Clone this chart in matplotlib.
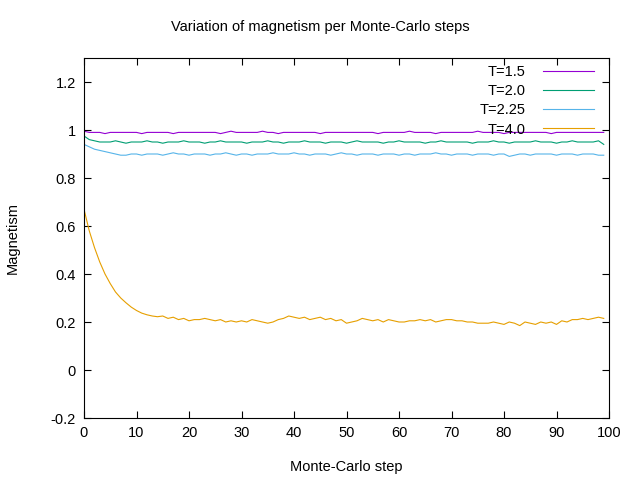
import matplotlib.pyplot as plt

m15 = [0.995, 0.99, 0.99, 0.99, 0.985, 0.99, 0.99, 0.99, 0.99, 0.99,
       0.99, 0.985, 0.99, 0.99, 0.99, 0.99, 0.99, 0.985, 0.99, 0.99,
       0.99, 0.99, 0.99, 0.99, 0.99, 0.99, 0.985, 0.99, 0.995, 0.99,
       0.99, 0.99, 0.99, 0.99, 0.995, 0.99, 0.99, 0.985, 0.99, 0.99,
       0.99, 0.99, 0.99, 0.99, 0.99, 0.985, 0.99, 0.99, 0.99, 0.99,
       0.99, 0.99, 0.99, 0.99, 0.99, 0.99, 0.985, 0.99, 0.99, 0.99,
       0.99, 0.99, 0.995, 0.99, 0.99, 0.99, 0.99, 0.985, 0.99, 0.99,
       0.99, 0.99, 0.99, 0.99, 0.99, 0.995, 0.99, 0.99, 0.99, 0.99,
       0.985, 0.99, 0.99, 0.99, 0.99, 0.99, 0.99, 0.99, 0.99, 0.985,
       0.99, 0.99, 0.99, 0.99, 0.99, 0.99, 0.99, 0.99, 0.99, 0.99]
m20 = [0.975, 0.96, 0.955, 0.95, 0.95, 0.95, 0.955, 0.95, 0.945, 0.95,
       0.95, 0.95, 0.955, 0.95, 0.95, 0.945, 0.95, 0.95, 0.95, 0.955,
       0.95, 0.95, 0.95, 0.945, 0.95, 0.95, 0.955, 0.95, 0.95, 0.95,
       0.95, 0.945, 0.95, 0.95, 0.95, 0.955, 0.95, 0.95, 0.945, 0.95,
       0.95, 0.95, 0.955, 0.95, 0.95, 0.95, 0.945, 0.95, 0.95, 0.95,
       0.945, 0.95, 0.955, 0.95, 0.95, 0.95, 0.95, 0.945, 0.95, 0.95,
       0.955, 0.95, 0.95, 0.95, 0.95, 0.945, 0.95, 0.95, 0.955, 0.95,
       0.95, 0.95, 0.95, 0.95, 0.945, 0.95, 0.95, 0.95, 0.955, 0.95,
       0.95, 0.945, 0.95, 0.95, 0.95, 0.95, 0.955, 0.95, 0.95, 0.95,
       0.945, 0.95, 0.95, 0.955, 0.95, 0.95, 0.95, 0.95, 0.955, 0.94]
m225 = [0.94, 0.93, 0.92, 0.915, 0.91, 0.905, 0.9, 0.895, 0.895, 0.9,
        0.9, 0.895, 0.9, 0.9, 0.9, 0.895, 0.9, 0.905, 0.9, 0.9,
        0.895, 0.9, 0.9, 0.9, 0.895, 0.9, 0.9, 0.905, 0.9, 0.895,
        0.9, 0.9, 0.895, 0.9, 0.9, 0.9, 0.905, 0.9, 0.9, 0.9,
        0.905, 0.9, 0.9, 0.895, 0.9, 0.9, 0.9, 0.895, 0.9, 0.905,
        0.9, 0.9, 0.895, 0.9, 0.9, 0.9, 0.895, 0.9, 0.9, 0.9,
        0.895, 0.9, 0.9, 0.895, 0.9, 0.9, 0.9, 0.905, 0.9, 0.9,
        0.895, 0.9, 0.9, 0.9, 0.895, 0.9, 0.9, 0.9, 0.895, 0.9,
        0.9, 0.89, 0.895, 0.9, 0.9, 0.895, 0.9, 0.9, 0.9, 0.9,
        0.895, 0.9, 0.9, 0.9, 0.895, 0.9, 0.9, 0.9, 0.895, 0.895]
m40 = [0.67, 0.58, 0.51, 0.45, 0.40, 0.36, 0.325, 0.30, 0.28, 0.262,
       0.248, 0.237, 0.23, 0.225, 0.222, 0.225, 0.215, 0.22, 0.21, 0.215,
       0.205, 0.21, 0.21, 0.215, 0.21, 0.205, 0.21, 0.2, 0.205, 0.2,
       0.205, 0.2, 0.21, 0.205, 0.2, 0.195, 0.2, 0.21, 0.215, 0.225,
       0.22, 0.215, 0.22, 0.21, 0.215, 0.22, 0.21, 0.215, 0.205, 0.21,
       0.195, 0.2, 0.205, 0.215, 0.21, 0.205, 0.21, 0.2, 0.21, 0.205,
       0.2, 0.2, 0.205, 0.205, 0.21, 0.205, 0.21, 0.2, 0.205, 0.21,
       0.21, 0.205, 0.205, 0.2, 0.2, 0.195, 0.195, 0.195, 0.2, 0.195,
       0.19, 0.2, 0.195, 0.185, 0.2, 0.195, 0.19, 0.2, 0.195, 0.2,
       0.19, 0.205, 0.2, 0.21, 0.21, 0.215, 0.21, 0.215, 0.22, 0.215]
labels = ['T=1.5', 'T=2.0', 'T=2.25', 'T=4.0']
colors = ['#9400d3', '#009e73', '#56b4e9', '#e69f00']

plt.rcParams['font.family'] = ['Liberation Sans', 'DejaVu Sans']
fig = plt.figure(figsize=(6.4, 4.8), dpi=100)
ax = fig.add_axes([84 / 640, 62 / 480, 525 / 640, 360 / 480])
for m, lab, c in zip([m15, m20, m225, m40], labels, colors):
    ax.plot(range(len(m)), m, color=c, lw=0.8, label=lab)

ax.set_xlim(0, 100)
ax.set_ylim(-0.2, 1.3)
ax.set_xticks(range(0, 101, 10))
ax.set_yticks([-0.2, 0, 0.2, 0.4, 0.6, 0.8, 1, 1.2])
ax.set_yticklabels(['-0.2', '0', '0.2', '0.4', '0.6', '0.8', '1', '1.2'])
ax.tick_params(direction='in', top=True, right=True, labelsize=10.5, length=5,
               pad=6)
ax.set_xlabel('Monte-Carlo step', fontsize=10.5, labelpad=14)
ax.set_ylabel('Magnetism', fontsize=10.5, labelpad=22)
fig.text(0.5, 0.935, 'Variation of magnetism per Monte-Carlo steps',
         ha='center', fontsize=10.5)
ax.legend(loc='upper right', frameon=False, markerfirst=False, fontsize=10.5,
          handlelength=3.5, labelspacing=0.35, borderaxespad=0.1,
          handletextpad=1.2, bbox_to_anchor=(0.985, 1.0))
fig.savefig('out.png')
